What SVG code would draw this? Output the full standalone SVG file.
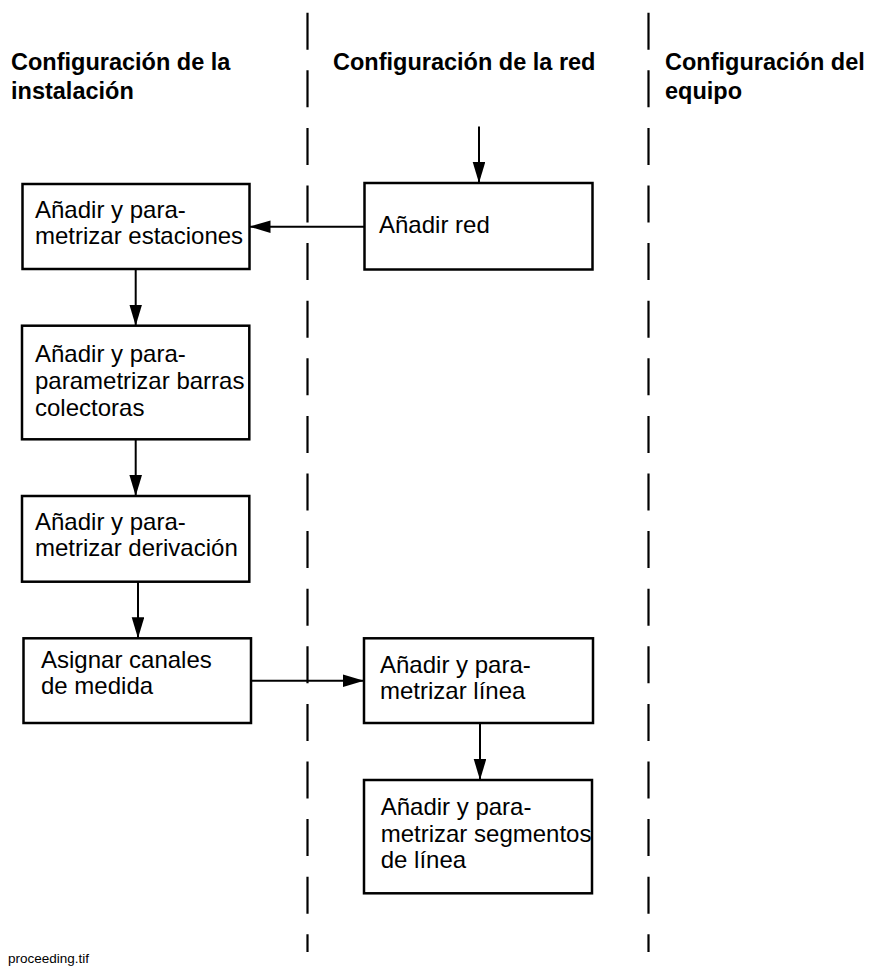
<svg xmlns="http://www.w3.org/2000/svg" width="870" height="967" viewBox="0 0 870 967">
<style>
  .hdr { font-family: "Liberation Sans", Arial, sans-serif; font-weight: bold; font-size: 23.5px; fill: #000; }
  .txt { font-family: "Liberation Sans", Arial, sans-serif; font-size: 24px; fill: #000; }
  .box { fill: #fff; stroke: #000; stroke-width: 2.5; }
  .lane { stroke: #000; stroke-width: 2.2; stroke-dasharray: 37 20.6; fill: none; }
  .con { stroke: #000; stroke-width: 2; fill: none; marker-end: url(#arr); }
  .foot { font-family: "Liberation Sans", Arial, sans-serif; font-size: 13.5px; fill: #000; }
</style>
<defs>
  <marker id="arr" markerUnits="userSpaceOnUse" markerWidth="21" markerHeight="13" refX="21" refY="6.3" orient="auto">
    <path d="M0,0 L21,6.3 L0,12.6 z" fill="#000"/>
  </marker>
</defs>
<rect width="870" height="967" fill="#fff"/>

<g id="lanes">
  <line class="lane" x1="307.5" y1="12.7" x2="307.5" y2="952"/>
  <line class="lane" x1="648.5" y1="12.7" x2="648.5" y2="952"/>
</g>

<g id="headers">
  <text class="hdr" x="11" y="69.5">Configuración de la</text>
  <text class="hdr" x="11" y="99">instalación</text>
  <text class="hdr" x="333" y="69.5">Configuración de la red</text>
  <text class="hdr" x="665" y="69.5">Configuración del</text>
  <text class="hdr" x="665" y="99">equipo</text>
</g>

<g id="connectors">
  <line class="con" x1="479" y1="126.5" x2="479" y2="183"/>
  <line class="con" x1="364" y1="226.7" x2="249.5" y2="226.7"/>
  <line class="con" x1="135.7" y1="269" x2="135.7" y2="325.7"/>
  <line class="con" x1="135.7" y1="439.3" x2="135.7" y2="496"/>
  <line class="con" x1="138" y1="581.7" x2="138" y2="638.3"/>
  <line class="con" x1="251" y1="680.7" x2="364" y2="680.7"/>
  <line class="con" x1="480" y1="723" x2="480" y2="780"/>
</g>

<g id="n_red">
  <rect class="box" x="364.5" y="183" width="228" height="86.5"/>
  <text class="txt" x="379" y="233">Añadir red</text>
</g>

<g id="n_estaciones">
  <rect class="box" x="22.5" y="184" width="227" height="85"/>
  <text class="txt" x="35" y="217.7">Añadir y para-</text>
  <text class="txt" x="35" y="243.5">metrizar estaciones</text>
</g>

<g id="n_barras">
  <rect class="box" x="22" y="325.7" width="227.3" height="113.6"/>
  <text class="txt" x="35" y="362.3">Añadir y para-</text>
  <text class="txt" x="35" y="389.3">parametrizar barras</text>
  <text class="txt" x="35" y="416">colectoras</text>
</g>

<g id="n_derivacion">
  <rect class="box" x="22" y="496" width="227.3" height="85.7"/>
  <text class="txt" x="35" y="530">Añadir y para-</text>
  <text class="txt" x="35" y="556">metrizar derivación</text>
</g>

<g id="n_canales">
  <rect class="box" x="23.5" y="638.3" width="227.5" height="84.7"/>
  <text class="txt" x="41" y="668.3">Asignar canales</text>
  <text class="txt" x="41" y="694.3">de medida</text>
</g>

<g id="n_linea">
  <rect class="box" x="364" y="638.3" width="229" height="84.7"/>
  <text class="txt" x="380" y="673">Añadir y para-</text>
  <text class="txt" x="380" y="699.3">metrizar línea</text>
</g>

<g id="n_segmentos">
  <rect class="box" x="364" y="780" width="228" height="113.3"/>
  <text class="txt" x="380.7" y="815">Añadir y para-</text>
  <text class="txt" x="380.7" y="841.7">metrizar segmentos</text>
  <text class="txt" x="380.7" y="868.3">de línea</text>
</g>

<text class="foot" x="8" y="963">proceeding.tif</text>
</svg>
